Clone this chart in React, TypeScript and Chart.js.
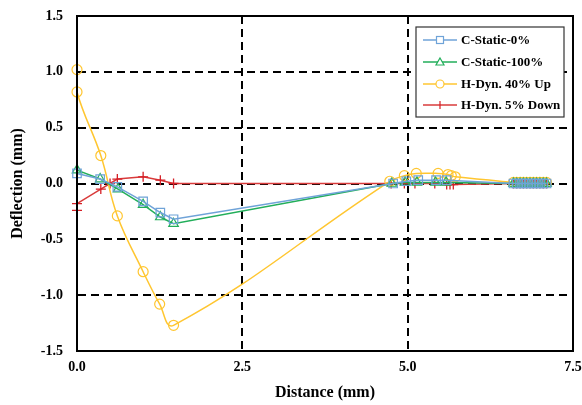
import React, { useEffect, useRef } from "react";
import { Chart, registerables } from "chart.js";

Chart.register(...registerables);

// ---- data ----
const blueX = [0, 0.35, 0.61, 1.0, 1.26, 1.46, 4.78, 4.98, 5.16, 5.43, 5.59, 6.6, 6.65, 6.7, 6.75, 6.8, 6.85, 6.9, 6.95, 7.0, 7.05, 7.1];
const blueY = [0.09, 0.04, -0.03, -0.16, -0.26, -0.32, 0.0, 0.02, 0.03, 0.03, 0.03, 0.0, 0.0, 0.0, 0.0, 0.0, 0.0, 0.0, 0.0, 0.0, 0.0, 0.0];

const greenX = [0, 0.35, 0.62, 1.0, 1.26, 1.46, 4.76, 4.96, 5.14, 5.42, 5.58, 6.6, 6.65, 6.7, 6.75, 6.8, 6.85, 6.9, 6.95, 7.0, 7.05, 7.1];
const greenY = [0.12, 0.04, -0.05, -0.19, -0.3, -0.36, 0.0, 0.01, 0.01, 0.01, 0.01, 0.0, 0.0, 0.0, 0.0, 0.0, 0.0, 0.0, 0.0, 0.0, 0.0, 0.0];

const yellowX = [0, 0, 0.36, 0.61, 1.0, 1.25, 1.46, 4.73, 4.95, 5.13, 5.46, 5.61, 5.66, 5.72, 6.6, 6.65, 6.7, 6.75, 6.8, 6.85, 6.9, 6.95, 7.0, 7.05, 7.1];
const yellowY = [1.02, 0.82, 0.25, -0.29, -0.79, -1.08, -1.27, 0.02, 0.07, 0.09, 0.09, 0.08, 0.07, 0.06, 0.01, 0.01, 0.01, 0.01, 0.01, 0.01, 0.01, 0.01, 0.01, 0.01, 0.01];

const redX = [0, 0, 0.36, 0.5, 0.61, 1.0, 1.26, 1.46, 4.75, 4.95, 5.11, 5.41, 5.59, 5.64, 5.69, 6.6, 6.65, 6.7, 6.75, 6.8, 6.85, 6.9, 6.95, 7.0, 7.05, 7.1];
const redY = [-0.24, -0.18, -0.05, 0.0, 0.04, 0.06, 0.03, 0.0, 0.0, 0.0, 0.0, 0.0, -0.01, -0.01, -0.01, 0.0, 0.0, 0.0, 0.0, 0.0, 0.0, 0.0, 0.0, 0.0, 0.0, 0.0];

const seriesNames = ["C-Static-0%", "C-Static-100%", "H-Dyn. 40% Up", "H-Dyn. 5% Down"];
const xTickValues = [0, 2.5, 5.0, 7.5];
const yTickValues = [-1.5, -1.0, -0.5, 0.0, 0.5, 1.0, 1.5];

const FONT = "'Liberation Serif', 'Times New Roman', serif";
const BLUE = "#6FA3D8";
const GREEN = "#22AE5A";
const YELLOW = "#FFC630";
const RED = "#D93B3B";
const RED_MARK = "#D51F26";

const toPts = (xs: number[], ys: number[]) => xs.map((x, i) => ({ x, y: ys[i] }));

const framePlugin = {
  id: "frame",
  afterDraw(chart: any) {
    const { ctx, chartArea: a } = chart;
    ctx.save();
    ctx.strokeStyle = "#000";
    ctx.lineWidth = 2;
    ctx.setLineDash([]);
    ctx.strokeRect(a.left, a.top, a.right - a.left, a.bottom - a.top);
    ctx.restore();
  },
};

const legendPlugin = {
  id: "boxLegend",
  afterDraw(chart: any) {
    const { ctx } = chart;
    const bx = 416, by = 27, bw = 148, bh = 90;
    ctx.save();
    ctx.fillStyle = "#fff";
    ctx.fillRect(bx, by, bw, bh);
    ctx.strokeStyle = "#333";
    ctx.lineWidth = 1.2;
    ctx.strokeRect(bx, by, bw, bh);
    const rows = [40, 62, 84, 105];
    chart.data.datasets.forEach((ds: any, i: number) => {
      const y = rows[i];
      ctx.strokeStyle = ds.borderColor;
      ctx.lineWidth = 1.5;
      ctx.beginPath();
      ctx.moveTo(423, y);
      ctx.lineTo(457, y);
      ctx.stroke();
      ctx.strokeStyle = ds.pointBorderColor;
      ctx.lineWidth = 1.2;
      const cx = 440;
      ctx.beginPath();
      if (ds.pointStyle === "rect") {
        ctx.fillStyle = "#fff";
        ctx.fillRect(cx - 3.5, y - 3.5, 7, 7);
        ctx.strokeRect(cx - 3.5, y - 3.5, 7, 7);
      } else if (ds.pointStyle === "triangle") {
        ctx.fillStyle = "#fff";
        ctx.moveTo(cx, y - 4);
        ctx.lineTo(cx + 4, y + 3);
        ctx.lineTo(cx - 4, y + 3);
        ctx.closePath();
        ctx.fill();
        ctx.stroke();
      } else if (ds.pointStyle === "circle") {
        ctx.fillStyle = "#fff";
        ctx.arc(cx, y, 4, 0, Math.PI * 2);
        ctx.fill();
        ctx.stroke();
      } else {
        ctx.moveTo(cx, y - 4);
        ctx.lineTo(cx, y + 4);
        ctx.stroke();
      }
      ctx.fillStyle = "#000";
      ctx.font = `bold 13px ${FONT}`;
      ctx.textAlign = "left";
      ctx.textBaseline = "middle";
      ctx.fillText(ds.label, 461, y + 1);
    });
    ctx.restore();
  },
};

export default function App() {
  const ref = useRef<HTMLCanvasElement | null>(null);

  useEffect(() => {
    if (!ref.current) return;
    const tickFont = { family: FONT, size: 14, weight: "bold" as const };
    const titleFont = { family: FONT, size: 16, weight: "bold" as const };
    const common = {
      backgroundColor: "transparent",
      pointBackgroundColor: "transparent",
      pointBorderWidth: 1.2,
      borderWidth: 1.5,
      clip: false as const,
    };
    const chart = new Chart(ref.current, {
      type: "line",
      data: {
        datasets: [
          {
            ...common,
            label: seriesNames[0],
            data: toPts(blueX, blueY),
            borderColor: BLUE,
            pointBorderColor: BLUE,
            pointStyle: "rect",
            pointRadius: 6,
            tension: 0,
          },
          {
            ...common,
            label: seriesNames[1],
            data: toPts(greenX, greenY),
            borderColor: GREEN,
            pointBorderColor: GREEN,
            pointStyle: "triangle",
            pointRadius: 5.5,
            tension: 0,
          },
          {
            ...common,
            label: seriesNames[2],
            data: toPts(yellowX, yellowY),
            borderColor: YELLOW,
            pointBorderColor: YELLOW,
            pointStyle: "circle",
            pointRadius: 5,
            tension: 0.4,
          },
          {
            ...common,
            label: seriesNames[3],
            data: toPts(redX, redY),
            borderColor: RED,
            pointBorderColor: RED_MARK,
            pointStyle: "cross",
            pointRadius: 5,
            pointBorderWidth: 1.3,
            tension: 0,
          },
        ],
      },
      options: {
        responsive: false,
        animation: false,
        layout: { padding: { left: 0, right: 9, top: 16, bottom: 0 } },
        plugins: { legend: { display: false }, tooltip: { enabled: false } },
        scales: {
          x: {
            type: "linear",
            min: 0,
            max: 7.5,
            afterBuildTicks: (s: any) => {
              s.ticks = xTickValues.map((v) => ({ value: v }));
            },
            afterFit: (s: any) => {
              s.height = 54;
            },
            ticks: {
              callback: (v: any) => Number(v).toFixed(1),
              font: tickFont,
              color: "#000",
              padding: 0,
              maxRotation: 0,
            },
            grid: { color: "#000", lineWidth: 2, drawTicks: true, tickLength: 8, tickColor: "rgba(0,0,0,0)" },
            border: { display: true, color: "#000", width: 2, dash: [8, 5] },
            title: {
              display: true,
              text: "Distance (mm)",
              font: titleFont,
              color: "#000",
              padding: { top: 0, bottom: 3 },
            },
          },
          y: {
            type: "linear",
            min: -1.5,
            max: 1.5,
            afterBuildTicks: (s: any) => {
              s.ticks = yTickValues.map((v) => ({ value: v }));
            },
            afterFit: (s: any) => {
              s.width = 77;
            },
            ticks: {
              callback: (v: any) => Number(v).toFixed(1),
              font: tickFont,
              color: "#000",
              padding: 0,
            },
            grid: { color: "#000", lineWidth: 2, drawTicks: true, tickLength: 14, tickColor: "rgba(0,0,0,0)" },
            border: { display: true, color: "#000", width: 2, dash: [8, 5] },
            title: {
              display: true,
              text: "Deflection (mm)",
              font: titleFont,
              color: "#000",
              padding: { top: 8, bottom: 0 },
            },
          },
        },
      },
      plugins: [framePlugin, legendPlugin],
    });
    return () => chart.destroy();
  }, []);

  return (
    <div style={{ position: "absolute", left: 0, top: 0, width: 582, height: 405, background: "#fff" }}>
      <canvas ref={ref} width={582} height={405} />
    </div>
  );
}
